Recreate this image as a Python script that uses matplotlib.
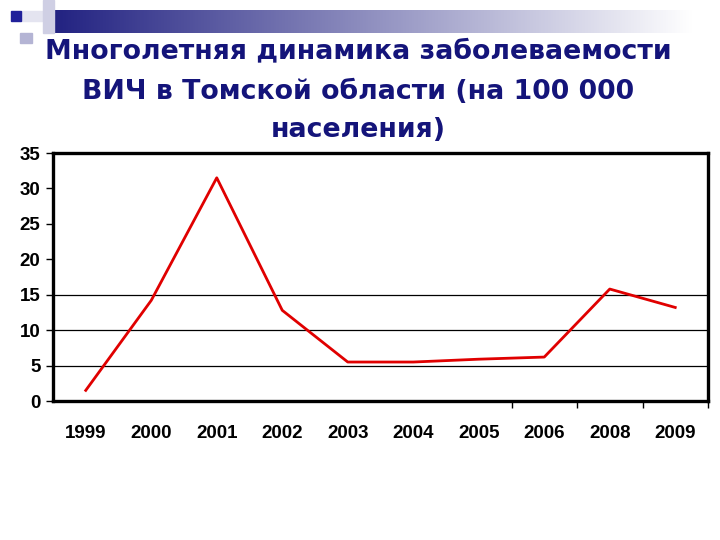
import numpy as np
import matplotlib.pyplot as plt
import matplotlib.patches as patches

# Data
years = ['1999', '2000', '2001', '2002', '2003', '2004', '2005', '2006', '2008', '2009']
rates = [1.5, 14.2, 31.5, 12.8, 5.5, 5.5, 5.9, 6.2, 15.8, 13.2]
y_ticks = [0, 5, 10, 15, 20, 25, 30, 35]
grid_levels = [5, 10, 15]
title_lines = ['Многолетняя динамика заболеваемости',
               'ВИЧ в Томской области (на 100 000',
               'населения)']

fig = plt.figure(figsize=(7.2, 5.4), dpi=100)
fig.patch.set_facecolor('white')

# Slide decoration: gradient bar + squares in top-left corner
bar_ax = fig.add_axes([43 / 720, 1 - 33 / 540, 650 / 720, 23 / 540])
grad = np.linspace(0, 1, 256)
navy = np.array([0.12, 0.12, 0.50])
cols = navy[None, :] * (1 - grad[:, None]) + np.ones(3)[None, :] * grad[:, None]
bar_ax.imshow(cols[None, :, :], aspect='auto')
bar_ax.axis('off')

def fig_rect(x0, y0, w, h, color):
    fig.patches.append(patches.Rectangle((x0 / 720, 1 - (y0 + h) / 540), w / 720, h / 540,
                                         transform=fig.transFigure, color=color, zorder=5))

fig_rect(22, 11, 22, 10, '#e4e4f0')
fig_rect(43, 0, 11, 33, '#cfcfe4')
fig_rect(20, 33, 12, 10, '#b4b4d4')
fig_rect(11, 11, 10, 10, '#20209a')

# Title
line_y = [51, 92, 130]
for line, yy in zip(title_lines, line_y):
    fig.text(0.497, 1 - yy / 540, line, ha='center', va='center',
             fontsize=19.3, fontweight='bold', color='#14147a', family='DejaVu Sans')

# Chart
ax = fig.add_axes([53 / 720, 139 / 540, 655 / 720, 248 / 540])
x = np.arange(len(years))
for lvl in grid_levels:
    ax.axhline(lvl, color='black', linewidth=0.9, zorder=1)
ax.plot(x, rates, color='#e00000', linewidth=2.0, zorder=3)

ax.set_xlim(-0.5, len(years) - 0.5)
ax.set_ylim(0, 35)
ax.set_yticks(y_ticks)
ax.set_xticks(x)
ax.set_xticklabels(years)
ax.set_xticks([6.5, 7.5, 8.5, 9.5], minor=True)
ax.tick_params(axis='x', which='major', length=0, pad=17)
ax.tick_params(axis='x', which='minor', length=5, direction='out', width=1)
ax.tick_params(axis='y', length=5, direction='out', width=1, pad=4)
for lab in ax.get_xticklabels() + ax.get_yticklabels():
    lab.set_fontsize(13.5)
    lab.set_fontweight('bold')
    lab.set_family('Liberation Sans')
for sp in ax.spines.values():
    sp.set_linewidth(2.4)
    sp.set_color('black')

fig.savefig('out.png', dpi=100)
